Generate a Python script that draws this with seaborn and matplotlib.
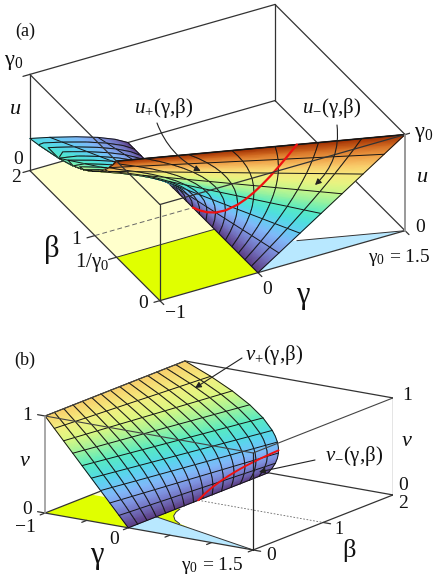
import numpy as np
import matplotlib
matplotlib.use('Agg')
import matplotlib.pyplot as plt
import seaborn as sns
from mpl_toolkits.mplot3d import proj3d
from mpl_toolkits.mplot3d.art3d import Poly3DCollection

# ============================================================
# DATA
# ============================================================

# panel (a): gamma of the surface at each (u level, beta level)
BETA_LEVELS_A = [0.0, 0.1, 0.2, 0.3, 0.4, 0.5, 0.6, 0.7, 0.8, 0.9, 1.0,
                 1.1, 1.2, 1.3, 1.4, 1.5, 1.6, 1.7, 1.8, 1.9, 2.0]
U_LEVELS = [0.0, 0.107, 0.214, 0.321, 0.429, 0.5, 0.536, 0.643, 0.75, 0.857,
            0.964, 1.071, 1.179, 1.286, 1.393, 1.5]
U_MESH_ROWS = [0, 2, 4, 7, 9, 11, 13, 15]
# beta where each u level leaves the box at gamma = -1
U_BETA_EDGE = [2, 2, 2, 2, 2, 2, 1.867, 1.556, 1.333, 1.167, 1.037, 0.933, 0.848, 0.778, 0.718, 0.667]
GAMMA_A = [
    [0.0]*21,
    [.107, .095, .083, .072, .060, .048, .036, .024, .012, .000, -.012, -.023, -.035, -.047, -.059, -.071, -.083, -.095, -.106, -.118, -.130],
    [.214, .188, .162, .136, .110, .084, .058, .032, .006, -.020, -.046, -.072, -.098, -.124, -.150, -.176, -.202, -.228, -.254, -.280, -.306],
    [.321, .279, .237, .194, .152, .109, .067, .024, -.018, -.061, -.103, -.146, -.188, -.231, -.273, -.316, -.358, -.400, -.443, -.485, -.528],
    [.429, .367, .306, .245, .184, .122, .061, .000, -.061, -.122, -.184, -.245, -.306, -.367, -.429, -.490, -.551, -.612, -.673, -.735, -.796],
    [.500, .425, .350, .275, .200, .125, .050, -.025, -.100, -.175, -.250, -.325, -.400, -.475, -.550, -.625, -.700, -.775, -.850, -.925, -1],
    [.536, .453, .371, .289, .207, .124, .042, -.040, -.122, -.205, -.287, -.369, -.451, -.534, -.616, -.698, -.781, -.863, -.945, -1, -1],
    [.643, .537, .432, .326, .220, .115, .009, -.096, -.202, -.307, -.413, -.519, -.624, -.730, -.835, -.941, -1, -1, -1, -1, -1],
    [.750, .619, .488, .356, .225, .094, -.038, -.169, -.300, -.431, -.563, -.694, -.825, -.956, -1, -1, -1, -1, -1, -1, -1],
    [.857, .698, .539, .380, .220, .061, -.098, -.257, -.416, -.576, -.735, -.894, -1, -1, -1, -1, -1, -1, -1, -1, -1],
    [.964, .775, .585, .396, .207, .017, -.172, -.362, -.551, -.741, -.930, -1, -1, -1, -1, -1, -1, -1, -1, -1, -1],
    [1.071, .850, .628, .406, .184, -.038, -.260, -.482, -.704, -.926, -1, -1, -1, -1, -1, -1, -1, -1, -1, -1, -1],
    [1.179, .922, .665, .408, .152, -.105, -.362, -.618, -.875, -1, -1, -1, -1, -1, -1, -1, -1, -1, -1, -1, -1],
    [1.286, .992, .698, .404, .110, -.184, -.478, -.771, -1, -1, -1, -1, -1, -1, -1, -1, -1, -1, -1, -1, -1],
    [1.393, 1.060, .726, .393, .060, -.273, -.607, -.940, -1, -1, -1, -1, -1, -1, -1, -1, -1, -1, -1, -1, -1],
    [1.500, 1.125, .750, .375, .000, -.375, -.750, -1, -1, -1, -1, -1, -1, -1, -1, -1, -1, -1, -1, -1, -1],
]

# panel (b): gamma of the surface at each (v level, beta level)
BETA_LEVELS_B = [0.0, 0.133, 0.267, 0.4, 0.533, 0.667, 0.8, 0.933, 1.067, 1.2, 1.333, 1.467, 1.6, 1.733, 1.867, 2.0]
V_LEVELS = [0.0, 0.056, 0.111, 0.167, 0.222, 0.278, 0.333, 0.389, 0.444, 0.556, 0.667, 0.778, 0.889, 1.0]
V_MESH_ROWS = [0, 2, 4, 6, 8, 9, 10, 11, 12, 13]
V_BETA_EDGE = [2]*14
GAMMA_B = [
    [0.0]*16,
    [-.056, -.049, -.042, -.035, -.028, -.021, -.014, -.007, .000, .007, .014, .021, .028, .035, .042, .049],
    [-.111, -.098, -.085, -.072, -.058, -.045, -.032, -.019, -.006, .008, .021, .034, .047, .060, .073, .086],
    [-.167, -.148, -.130, -.111, -.093, -.074, -.056, -.037, -.019, .000, .019, .037, .056, .074, .093, .111],
    [-.222, -.199, -.176, -.153, -.130, -.107, -.084, -.061, -.038, -.015, .008, .031, .054, .077, .100, .123],
    [-.278, -.251, -.224, -.198, -.171, -.144, -.117, -.091, -.064, -.037, -.010, .016, .043, .070, .097, .123],
    [-.333, -.304, -.274, -.244, -.215, -.185, -.156, -.126, -.096, -.067, -.037, -.007, .022, .052, .081, .111],
    [-.389, -.357, -.326, -.294, -.262, -.231, -.199, -.167, -.136, -.104, -.072, -.040, -.009, .023, .055, .086],
    [-.444, -.412, -.379, -.346, -.313, -.280, -.247, -.214, -.181, -.148, -.115, -.082, -.049, -.016, .017, .049],
    [-.556, -.523, -.490, -.457, -.424, -.391, -.358, -.325, -.292, -.259, -.226, -.193, -.160, -.128, -.095, -.062],
    [-.667, -.637, -.607, -.578, -.548, -.519, -.489, -.459, -.430, -.400, -.370, -.341, -.311, -.281, -.252, -.222],
    [-.778, -.755, -.732, -.709, -.686, -.663, -.639, -.616, -.593, -.570, -.547, -.524, -.501, -.478, -.455, -.432],
    [-.889, -.876, -.863, -.849, -.836, -.823, -.810, -.797, -.784, -.770, -.757, -.744, -.731, -.718, -.705, -.691],
    [-1.0]*16,
]

# red fold curves
RED_A_BETA = [1, .9, .8, .7, .6, .5, .45, .4, .36, .33, .3, .27, .25]
RED_A_GAMMA = [0, .003, .0125, .032, .067, .125, .168, .225, .284, .34, .408, .493, .5625]
RED_A_U = [0, .056, .125, .214, .333, .5, .611, .75, .889, 1.015, 1.167, 1.352, 1.5]
RED_B_BETA = [1, 1.1, 1.2, 1.3, 1.4, 1.5, 1.6, 1.7, 1.8, 1.9, 2]
RED_B_GAMMA = [0, .002, .008, .017, .029, .042, .056, .072, .089, .107, .125]
RED_B_V = [0, .045, .083, .115, .143, .167, .188, .206, .222, .237, .25]

# floor regions, (gamma, beta)
FLOOR_PALE = [(-1, 0.667), (0, 0.667), (0, 2), (-1, 2)]
FLOOR_YELLOW = [(-1, 0), (0, 0), (0, 0.667), (-1, 0.667)]
FLOOR_BLUE = [(0, 0), (1.5, 0), (0, 0.4)]
FLOOR_SLIVER = [(0, 0.4), (0.5625, 0.25), (0.34, 0.33), (0.225, 0.4), (0.125, 0.5), (0.067, 0.6), (0.032, 0.7), (0, 0.7)]

SURFACE_COLORS = ['#5a3a80', '#7a80d0', '#84b4fa', '#5fd2f2', '#42e8cf', '#93f2a2',
                  '#dbf882', '#f8ee80', '#f8c062', '#e57f2c', '#9c2c00']

# ============================================================
# STYLE
# ============================================================

sns.set_theme(style="white")
plt.rcParams['font.family'] = ['Liberation Serif', 'DejaVu Sans']
plt.rcParams['mathtext.fontset'] = 'custom'
plt.rcParams['mathtext.rm'] = 'Liberation Serif'
plt.rcParams['mathtext.it'] = 'Liberation Serif:italic'
plt.rcParams['mathtext.bf'] = 'Liberation Serif:bold'
plt.rcParams['text.color'] = '#111111'

surface_cmap = sns.blend_palette(SURFACE_COLORS, as_cmap=True)

fig = plt.figure(figsize=(4.36, 5.80), dpi=100)
DARK = '#333333'
GRAY = '#999999'
MESH = '#151515'


def make_axes(left, bottom, size, elev, azim, aspect, zmax):
    ax = fig.add_axes([left / 436, bottom / 580, size / 436, size / 580],
                      projection='3d', computed_zorder=False, proj_type='ortho')
    ax.view_init(elev=elev, azim=azim)
    ax.set_box_aspect(aspect)
    ax.set_xlim(-1, 1.5)
    ax.set_ylim(0, 2)
    ax.set_zlim(0, zmax)
    ax.set_axis_off()
    ax.patch.set_visible(False)
    return ax


def add_floor(ax, region, color):
    verts = [[(g, b, 0) for g, b in region]]
    ax.add_collection3d(Poly3DCollection(verts, facecolor=color, edgecolor='none',
                                         linewidth=0, zorder=1))


def box_line(ax, p, q, color=DARK, lw=0.9, zorder=2, **kw):
    ax.plot([p[0], q[0]], [p[1], q[1]], [p[2], q[2]], color=color, lw=lw, zorder=zorder, **kw)


def draw_surface(ax, gamma_table, beta_levels, levels, beta_edge, mesh_rows, vmax):
    gamma = np.array(gamma_table)
    beta = np.array([[min(b, e) for b in beta_levels] for e in beta_edge])
    z = np.array([[lv] * len(beta_levels) for lv in levels])
    norm = matplotlib.colors.Normalize(0, vmax)
    M = ax.get_proj()
    px, py, _ = proj3d.proj_transform(gamma.ravel(), beta.ravel(), z.ravel(), M)
    px = px.reshape(gamma.shape)
    py = py.reshape(gamma.shape)

    order = 10
    # back to front, one beta strip at a time
    for j in range(len(beta_levels) - 2, -1, -1):
        mesh = ax.pcolormesh(px[:, j:j + 2], py[:, j:j + 2], z[:, j:j + 2], shading='gouraud',
                             cmap=surface_cmap, norm=norm, zorder=order)
        mesh.do_3d_projection = lambda: 0
        order += 1
        for c in (j, j + 1):
            ax.plot(gamma[:, c], beta[:, c], z[:, c], color=MESH, lw=0.7, zorder=order)
        for r in mesh_rows:
            ax.plot(gamma[r, j:j + 2], beta[r, j:j + 2], z[r, j:j + 2], color=MESH, lw=0.7, zorder=order)
        order += 1
    return order


# ============================================================
# PANEL (a)
# ============================================================

ax_a = make_axes(14.1, 224.1, 396, 32.3, 241.9, (277.7, 275.8, 113.6), 1.5)
add_floor(ax_a, FLOOR_PALE, '#ffffcc')
add_floor(ax_a, FLOOR_YELLOW, '#e0ff00')
add_floor(ax_a, FLOOR_BLUE, '#b8e8ff')

A = (-1, 0, 0); B = (-1, 0, 1.5); C = (-1, 2, 0); D = (-1, 2, 1.5)
E = (1.5, 0, 0); F = (1.5, 0, 1.5); G = (1.5, 2, 0); H = (1.5, 2, 1.5)

for p, q in [(C, D), (C, G), (G, H), (D, H), (H, F), (G, E), (C, A), (A, E)]:
    box_line(ax_a, p, q)
box_line(ax_a, (-1, 0.667, 0), (0, 0.667, 0), lw=0.7)
box_line(ax_a, (0, 0, 0), (0, 0.667, 0), lw=0.7)
box_line(ax_a, E, (0.5625, 0.25, 0), lw=0.7)
box_line(ax_a, (-1, 1, 0), (0, 1, 0), color='#666666', lw=0.7, linestyle=(0, (5, 3)))

top = draw_surface(ax_a, GAMMA_A, BETA_LEVELS_A, U_LEVELS, U_BETA_EDGE, U_MESH_ROWS, 1.5)
ax_a.plot(GAMMA_A[-1], [min(b, 0.667) for b in BETA_LEVELS_A], [1.5] * 21, color=MESH, lw=1.1, zorder=top)
ax_a.plot(RED_A_GAMMA, RED_A_BETA, RED_A_U, color='#ee1111', lw=1.6, zorder=top + 1)
for p, q in [(D, B), (B, A), (B, F)]:
    box_line(ax_a, p, q, zorder=top + 2)
box_line(ax_a, E, F, color=GRAY, lw=1.4, zorder=top + 2)

# ticks
for p, q in [((-1, 2, 1.5), (-1.07, 2, 1.5)), ((-1, 2, 0), (-1.07, 2, 0)),
             ((-1, 1, 0), (-1.08, 1, 0)), ((-1, 0.667, 0), (-1.08, 0.667, 0)),
             ((-1, 0, 0), (-1.06, 0, 0)), ((-1, 0, 0), (-1, -0.06, 0)),
             ((0, 0, 0), (0, -0.06, 0)), ((1.5, 0, 0), (1.5, -0.06, 0)),
             ((1.5, 0, 1.5), (1.56, 0, 1.5))]:
    box_line(ax_a, p, q)

# ============================================================
# PANEL (b)
# ============================================================

ax_b = make_axes(35.3, -59.2, 357.8, 15.33, -56.1, (250.7, 250.8, 100.6), 1.0)
add_floor(ax_b, FLOOR_PALE, '#ffffcc')
add_floor(ax_b, FLOOR_YELLOW, '#e0ff00')
add_floor(ax_b, FLOOR_SLIVER, '#e0ff00')
add_floor(ax_b, FLOOR_BLUE, '#b8e8ff')

a = (-1, 0, 0); b = (-1, 0, 1); c = (-1, 2, 0); d = (-1, 2, 1)
e = (1.5, 0, 0); f = (1.5, 0, 1); g = (1.5, 2, 0); h = (1.5, 2, 1)

for p, q in [(a, c), (c, g), (g, h), (d, h), (a, e), (e, g)]:
    box_line(ax_b, p, q)
box_line(ax_b, (1.5, 0, 0), (0, 0.4, 0), lw=0.7)
fold = FLOOR_SLIVER[2:-1]
ax_b.plot([s[0] for s in fold], [s[1] for s in fold], [0] * len(fold), color=DARK, lw=0.7, zorder=2)
box_line(ax_b, (0, 1, 0), (1.5, 1, 0), color='#666666', lw=0.6, linestyle=(0, (2, 2)))

top = draw_surface(ax_b, GAMMA_B, BETA_LEVELS_B, V_LEVELS, V_BETA_EDGE, V_MESH_ROWS, 1.3)
ax_b.plot(RED_B_GAMMA, RED_B_BETA, RED_B_V, color='#ee1111', lw=1.4, zorder=top + 1)
for p, q in [(b, f), (f, h), (b, d)]:
    box_line(ax_b, p, q, color='#444444', lw=0.8, zorder=top + 2)
box_line(ax_b, e, f, color='#222222', zorder=top + 2)
box_line(ax_b, a, b, color=GRAY, lw=1.2, zorder=top + 2)

for p, q in [((-1, 0, 1), (-1.09, 0, 1)), ((-1, 0, 0), (-1.09, 0, 0))]:
    box_line(ax_b, p, q)
for t in [-1, -0.5, 0, 0.5, 1, 1.5]:
    box_line(ax_b, (t, 0, 0), (t, -0.07, 0))
for t in [0, 1, 2]:
    box_line(ax_b, (1.5, t, 0), (1.59, t, 0))
box_line(ax_b, (1.5, 2, 1), (1.5, 2.1, 1))

# ============================================================
# LABELS (overlay in figure pixels)
# ============================================================

ax_txt = fig.add_axes([0, 0, 1, 1])
ax_txt.set_xlim(0, 436)
ax_txt.set_ylim(580, 0)
ax_txt.set_axis_off()
ax_txt.patch.set_visible(False)

G0 = r'$\mathrm{\gamma}_{0}$'
GB = r'(\mathrm{\gamma}{,}\mathrm{\beta})$'
LABELS = [
    ('(a)', 25, 31, 13), (G0, 14, 63, 16), ('$u$', 15, 110, 16), ('0', 18, 160, 14), ('2', 16, 177, 14),
    ('\u03b2', 52, 250, 22), ('1', 76, 240, 14), (r'1/' + G0, 92, 263, 15), ('0', 143, 304, 14),
    ('\u22121', 175, 314, 14), ('0', 267, 290, 14), ('\u03b3', 303, 295, 22),
    (G0 + ' = 1.5', 399, 257, 14), ('0', 420, 227, 14), ('$u$', 422, 177, 16), (G0, 424, 135, 16),
    (r'$u_{+}' + GB, 164, 108, 15), (r'$u_{-}' + GB, 332, 108, 15),
    ('(b)', 25, 360, 13), (r'$v_{+}' + GB, 274, 355, 15), ('1', 27, 415, 14), ('$v$', 25, 461, 16),
    ('0', 27, 509, 14), ('\u22121', 25, 528, 14), ('0', 114, 540, 14), ('\u03b3', 97, 556, 22),
    (G0 + ' = 1.5', 212, 566, 14), ('0', 271, 556, 14), ('\u03b2', 349, 550, 19), ('1', 339, 530, 13),
    ('2', 403, 504, 14), ('0', 403, 486, 14), ('$v$', 407, 441, 16), ('1', 407, 395, 14),
    (r'$v_{-}' + GB, 354, 456, 15),
]
for text, x, y, size in LABELS:
    ax_txt.text(x, y, text, fontsize=size, ha='center', va='center')

ARROWS = [((157, 123), (200.7, 171), 0.2), ((337, 125), (315, 185), -0.25),
          ((242, 358), (195, 388), 0.0), ((315, 460), (259, 472), 0.0)]
for start, end, rad in ARROWS:
    ax_txt.annotate('', xy=end, xytext=start,
                    arrowprops=dict(arrowstyle='-|>', connectionstyle=f'arc3,rad={rad}', lw=0.8, color='#222222',
                                    shrinkA=0, shrinkB=0, mutation_scale=9))

fig.savefig('out.png', dpi=100)
